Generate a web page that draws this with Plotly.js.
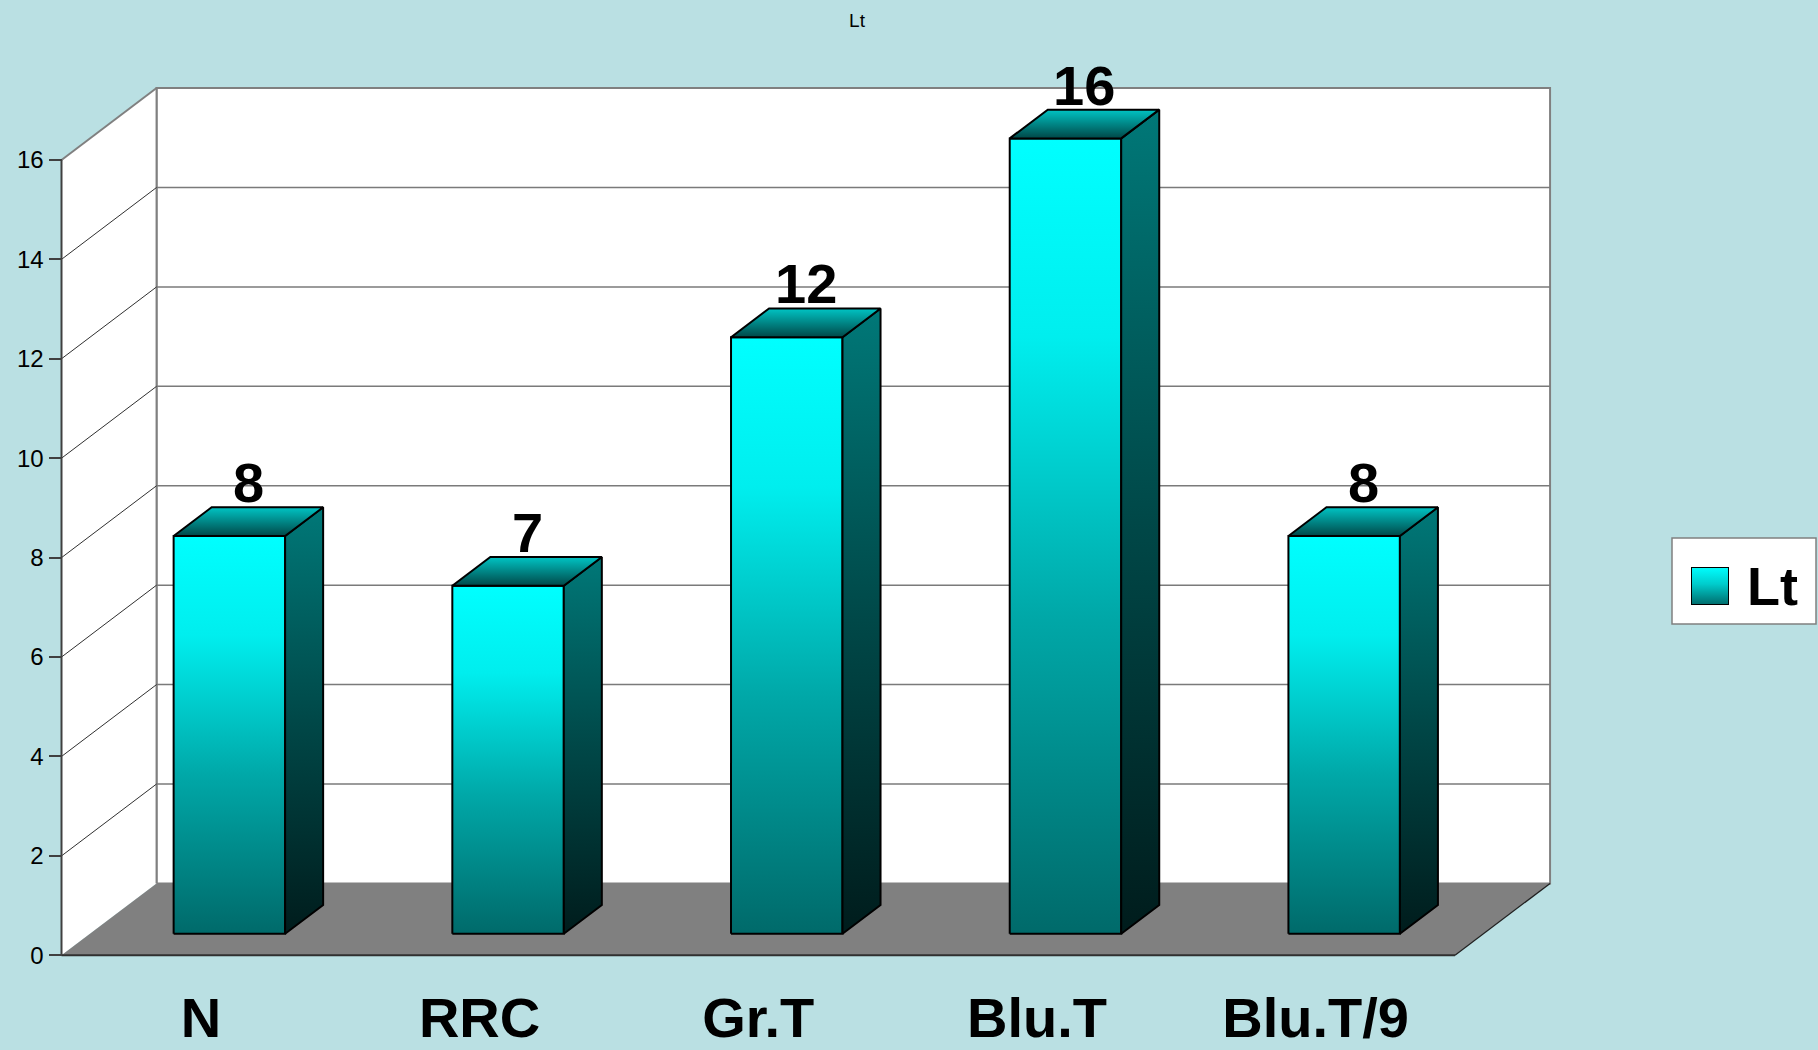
<!DOCTYPE html>
<html>
<head>
<meta charset="utf-8">
<script src="https://cdn.plot.ly/plotly-3.0.1.min.js"></script>
<style>
  html, body { margin: 0; padding: 0; background: #BAE0E3; }
  #chart { width: 1818px; height: 1050px; }
</style>
</head>
<body>
<div id="chart"></div>
<script>
// ---- chart data ----
const chartTitle = 'Lt';
const seriesName = 'Lt';
const categories = ['N', 'RRC', 'Gr.T', 'Blu.T', 'Blu.T/9'];
const values = [8, 7, 12, 16, 8];
const yTicks = [0, 2, 4, 6, 8, 10, 12, 14, 16];

// ---- page geometry (pixels) ----
const W = 1818, H = 1050;
const ORIGIN_X = 61.5, ORIGIN_Y = 955.3;   // front-left corner of the floor
const PX_PER_CAT = 278.7, PX_PER_UNIT = 49.71;
const YMAX = 16;                          // wall height in value units
const DX = 0.3411, DY = 1.446;            // oblique depth offset (category / value units)
const XPAD = 0.05, YPAD = 0.3;
const BAR_W = 0.4, Z0 = 0.3, Z1 = 0.7;    // bar width and depth span

const nCat = categories.length;
const xRange = [-XPAD, nCat + DX + XPAD];
const yRange = [-YPAD, YMAX + DY + YPAD];
const pxL = ORIGIN_X + xRange[0] * PX_PER_CAT;
const pxR = ORIGIN_X + xRange[1] * PX_PER_CAT;
const pyB = ORIGIN_Y - yRange[0] * PX_PER_UNIT;
const pyT = ORIGIN_Y - yRange[1] * PX_PER_UNIT;
const xDomain = [pxL / W, pxR / W];
const yDomain = [1 - pyB / H, 1 - pyT / H];

// project a point (category position, value, depth) onto the axes
function P(c, v, z) { return [c + z * DX, v + z * DY]; }

function poly(points, opts) {
  const xs = points.map(p => p[0]), ys = points.map(p => p[1]);
  xs.push(xs[0]); ys.push(ys[0]);
  return Object.assign({
    type: 'scatter', mode: 'lines', x: xs, y: ys, fill: 'toself',
    hoverinfo: 'skip', showlegend: false, xaxis: 'x', yaxis: 'y'
  }, opts);
}
function lines(segs, color, width) {
  const xs = [], ys = [];
  segs.forEach(s => { xs.push(s[0][0], s[1][0], null); ys.push(s[0][1], s[1][1], null); });
  return { type: 'scatter', mode: 'lines', x: xs, y: ys, hoverinfo: 'skip', showlegend: false,
           line: { color: color, width: width }, xaxis: 'x', yaxis: 'y' };
}

const traces = [];

// back wall
traces.push(poly([P(0, 0, 1), P(nCat, 0, 1), P(nCat, YMAX, 1), P(0, YMAX, 1)],
  { fillcolor: '#FFFFFF', line: { color: '#808080', width: 2 } }));
// left side wall
traces.push(poly([P(0, 0, 0), P(0, 0, 1), P(0, YMAX, 1), P(0, YMAX, 0)],
  { fillcolor: '#FFFFFF', line: { width: 0 } }));
traces.push(lines([[P(0, YMAX, 0), P(0, YMAX, 1)], [P(0, 0, 1), P(0, YMAX, 1)]], '#808080', 2));

// gridlines on the walls
const gridVals = yTicks.filter(v => v > 0 && v < YMAX);
traces.push(lines(gridVals.map(v => [P(0, v, 1), P(nCat, v, 1)]), '#7a7a7a', 1.5));
traces.push(lines(gridVals.map(v => [P(0, v, 0), P(0, v, 1)]), '#303030', 1));

// floor
traces.push(poly([P(0, 0, 0), P(nCat, 0, 0), P(nCat, 0, 1), P(0, 0, 1)],
  { fillcolor: '#808080', line: { width: 0 } }));
traces.push(lines([[P(nCat, 0, 0), P(nCat, 0, 1)]], '#202020', 1.2));

// bars
const frontScale = [[0, '#006a6a'], [0.4, '#00a8a8'], [0.75, '#00eeee'], [1, '#00ffff']];
const sideScale = [[0, '#001c1c'], [0.5, '#004848'], [1, '#007878']];
const topScale = [[0, '#004848'], [1, '#00c4c4']];
const edge = { color: '#000000', width: 2 };
values.forEach((v, i) => {
  const c0 = i + 0.5 - BAR_W / 2, c1 = i + 0.5 + BAR_W / 2;
  const front = [P(c0, 0, Z0), P(c1, 0, Z0), P(c1, v, Z0), P(c0, v, Z0)];
  const side = [P(c1, 0, Z0), P(c1, 0, Z1), P(c1, v, Z1), P(c1, v, Z0)];
  const top = [P(c0, v, Z0), P(c1, v, Z0), P(c1, v, Z1), P(c0, v, Z1)];
  traces.push(poly(front, { line: edge, fillgradient: { type: 'vertical', colorscale: frontScale,
    start: P(0, 0, Z0)[1], stop: P(0, v, Z0)[1] } }));
  traces.push(poly(side, { line: edge, fillgradient: { type: 'vertical', colorscale: sideScale,
    start: P(0, 0, Z0)[1], stop: P(0, v, Z1)[1] } }));
  traces.push(poly(top, { line: edge, fillgradient: { type: 'vertical', colorscale: topScale,
    start: P(0, v, Z0)[1], stop: P(0, v, Z1)[1] } }));
});

// front axis lines
traces.push(lines([[P(0, 0, 0), P(0, YMAX, 0)]], '#404040', 2));
traces.push(lines([[P(0, 0, 0), P(nCat, 0, 0)]], '#303030', 2));

// legend swatch (own small axes)
traces.push({
  type: 'scatter', mode: 'lines', x: [0, 1, 1, 0, 0], y: [0, 0, 1, 1, 0], fill: 'toself',
  xaxis: 'x3', yaxis: 'y3', hoverinfo: 'skip', showlegend: false,
  line: { color: '#000000', width: 2 },
  fillgradient: { type: 'vertical', colorscale: [[0, '#006a6a'], [0.55, '#00cccc'], [1, '#00ffff']], start: 0, stop: 1 }
});

const FONT = 'Arial, "Liberation Sans", sans-serif';

// value labels above the bars
const annotations = values.map((v, i) => {
  const p = P(i + 0.5, v, Z1);
  return {
    x: P(i + 0.5, v, (Z0 + Z1) / 2)[0], y: p[1], xref: 'x', yref: 'y',
    text: String(v), showarrow: false, xanchor: 'center', yanchor: 'bottom', yshift: -9,
    font: { family: FONT, size: 56, color: '#000000', weight: 'bold' }
  };
});
// legend text
annotations.push({
  x: 1745 / W, y: 1 - 586 / H, xref: 'paper', yref: 'paper', text: seriesName,
  showarrow: false, xanchor: 'left', yanchor: 'middle',
  font: { family: FONT, size: 54, color: '#000000', weight: 'bold' }
});

const layout = {
  width: W, height: H,
  margin: { l: 0, r: 0, t: 0, b: 0 },
  paper_bgcolor: '#BAE0E3', plot_bgcolor: 'rgba(0,0,0,0)',
  showlegend: false,
  title: { text: chartTitle, x: 857 / W, y: 1 - 20 / H, xanchor: 'center', yanchor: 'middle',
           font: { family: FONT, size: 19, color: '#000000' } },
  xaxis: {
    domain: xDomain, range: xRange, anchor: 'free', position: 1 - ORIGIN_Y / H,
    tickmode: 'array', tickvals: categories.map((_, i) => i + 0.5), ticktext: categories,
    ticks: '', showgrid: false, zeroline: false, showline: false, fixedrange: true,
    ticklabelstandoff: 25,
    tickfont: { family: FONT, size: 56, color: '#000000', weight: 'bold' }
  },
  xaxis2: {
    overlaying: 'x', range: xRange, anchor: 'free', position: 1 - ORIGIN_Y / H,
    tickmode: 'array', tickvals: categories.map((_, i) => i).concat([nCat]),
    ticks: 'outside', ticklen: 13, tickwidth: 2, tickcolor: '#404040',
    showticklabels: false, showgrid: false, zeroline: false, showline: false, fixedrange: true
  },
  yaxis: {
    domain: yDomain, range: yRange, anchor: 'free', position: ORIGIN_X / W,
    tickmode: 'array', tickvals: yTicks,
    ticks: 'outside', ticklen: 13, tickwidth: 2, tickcolor: '#404040',
    showgrid: false, zeroline: false, showline: false, fixedrange: true,
    tickfont: { family: FONT, size: 24, color: '#000000' }
  },
  xaxis3: { domain: [1691 / W, 1729 / W], range: [0, 1], anchor: 'y3', visible: false, fixedrange: true },
  yaxis3: { domain: [1 - 605 / H, 1 - 567 / H], range: [0, 1], anchor: 'x3', visible: false, fixedrange: true },
  shapes: [{
    type: 'rect', xref: 'paper', yref: 'paper', layer: 'below',
    x0: 1672 / W, x1: 1816 / W, y0: 1 - 624 / H, y1: 1 - 538 / H,
    fillcolor: '#FFFFFF', line: { color: '#808080', width: 1.5 }
  }],
  annotations: annotations
};

Plotly.newPlot('chart', traces, layout, { displayModeBar: false, staticPlot: true });
</script>
</body>
</html>
